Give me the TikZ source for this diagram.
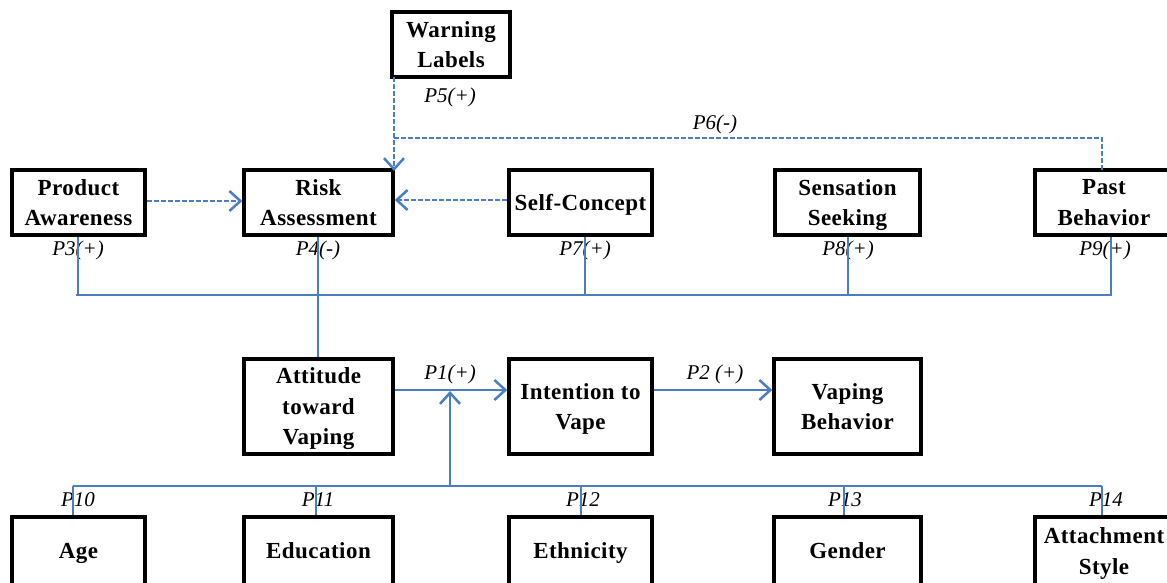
\documentclass[tikz,border=0pt]{standalone}
\usepackage{fontspec}
\setmainfont{Liberation Serif}
\newfontfamily\boxfont[LetterSpace=2]{Liberation Serif}
\usetikzlibrary{arrows.meta,calc}
\definecolor{lineblue}{RGB}{74,126,193}
\tikzset{
  box/.style={draw=black, line width=3.5pt, fill=white, align=center, inner sep=2pt,
    text depth=0pt, font=\boxfont\bfseries\fontsize{23}{30.5}\selectfont},
  topbox/.style={box, minimum height=65pt},
  midbox/.style={box, minimum height=95pt},
  botbox/.style={box, minimum height=68pt},
  plabel/.style={font=\itshape\fontsize{21}{24}\selectfont, inner sep=0pt},
  conn/.style={draw=lineblue, line width=2.5pt},
  dconn/.style={conn, dash pattern=on 5pt off 2pt},
  tip/.style={-{Straight Barb[length=11pt,width=20pt,line width=2.5pt]}}
}
\begin{document}
\begin{tikzpicture}[x=1pt,y=-1pt]
\useasboundingbox (0,0) rectangle (1167,583);
% top row
\node[topbox, minimum width=118pt] (warn) at (451,44.5) {Warning\\Labels};
\node[topbox, minimum width=133pt] (prod) at (78.5,202.5) {Product\\Awareness};
\node[topbox, minimum width=149pt] (risk) at (318.5,202.5) {Risk\\Assessment};
\node[topbox, minimum width=143pt] (self) at (580.5,202.5) {Self-Concept};
\node[topbox, minimum width=145pt] (sens) at (847.5,202.5) {Sensation\\Seeking};
\node[topbox, minimum width=138pt] (past) at (1104,202.5) {Past\\Behavior};
% middle row
\node[midbox, minimum width=149pt] (att) at (318.5,406.5) {Attitude\\toward\\Vaping};
\node[midbox, minimum width=143pt] (int) at (580.5,406.5) {Intention to\\Vape};
\node[midbox, minimum width=147pt] (vap) at (847.5,406.5) {Vaping\\Behavior};
% bottom row
\node[botbox, minimum width=133pt] (age) at (78.5,551) {Age};
\node[botbox, minimum width=149pt] (edu) at (318.5,551) {Education};
\node[botbox, minimum width=143pt] (eth) at (580.5,551) {Ethnicity};
\node[botbox, minimum width=147pt] (gen) at (847.5,551) {Gender};
\node[botbox, minimum width=138pt] (attst) at (1104,551) {Attachment\\Style};

% labels
\node[plabel] (l5) at (450,97) {P5(+)};
\node[plabel] (l6) at (715,124) {P6(-)};
\node[plabel] (l3) at (78,250) {P3(+)};
\node[plabel] (l4) at (318,250) {P4(-)};
\node[plabel] (l7) at (585,250) {P7(+)};
\node[plabel] (l8) at (848,250) {P8(+)};
\node[plabel] (l9) at (1105,250) {P9(+)};
\node[plabel] (l1) at (450,374) {P1(+)};
\node[plabel] (l2) at (715,374) {P2 (+)};
\node[plabel] (l10) at (78,500) {P10};
\node[plabel] (l11) at (318,500) {P11};
\node[plabel] (l12) at (583,500) {P12};
\node[plabel] (l13) at (845,500) {P13};
\node[plabel] (l14) at (1106,500) {P14};

% dashed connectors
\coordinate (wtop) at (394,77);
\coordinate (rtip) at (394,171);
\coordinate (j6) at (394,138);
\coordinate (ptop) at (1102,170);
\draw[dconn, tip] (wtop) -- (rtip);
\draw[dconn] (ptop) |- (j6);
\draw[dconn, tip] ([yshift=1.5pt]prod.east) -- ([yshift=1.5pt]risk.west);
\draw[dconn, tip] ([yshift=2.5pt]self.west) -- ([yshift=2.5pt]risk.east);

% upper bus
\coordinate (b3) at (78,295);
\coordinate (b4) at (318,295);
\coordinate (b7) at (585,295);
\coordinate (b8) at (848,295);
\coordinate (b9) at (1111,295);
\coordinate (bl) at (76,295);
\coordinate (br) at (1112,295);
\draw[conn] (bl) -- (br);
\draw[conn] (b3 |- prod.south) -- (b3);
\draw[conn] (b4 |- risk.south) -- (b4);
\draw[conn] (b7 |- self.south) -- (b7);
\draw[conn] (b8 |- sens.south) -- (b8);
\draw[conn] (b9 |- past.south) -- (b9);
\draw[conn] (b4) -- (b4 |- att.north);

% main arrows
\draw[conn, tip] ([yshift=16.5pt]att.east) -- ([yshift=16.5pt]int.west);
\draw[conn, tip] ([yshift=16.5pt]int.east) -- ([yshift=16.5pt]vap.west);

% lower bus
\coordinate (m1) at (450,486);
\coordinate (m1t) at (450,391);
\coordinate (c10) at (73,486);
\coordinate (c11) at (316,486);
\coordinate (c12) at (581,486);
\coordinate (c13) at (844,486);
\coordinate (c14) at (1102,486);
\draw[conn, tip] (m1) -- (m1t);
\draw[conn] (c10) -- (c14);
\draw[conn] (c10) -- (c10 |- age.north);
\draw[conn] (c11) -- (c11 |- edu.north);
\draw[conn] (c12) -- (c12 |- eth.north);
\draw[conn] (c13) -- (c13 |- gen.north);
\draw[conn] (c14) -- (c14 |- attst.north);
\end{tikzpicture}
\end{document}
